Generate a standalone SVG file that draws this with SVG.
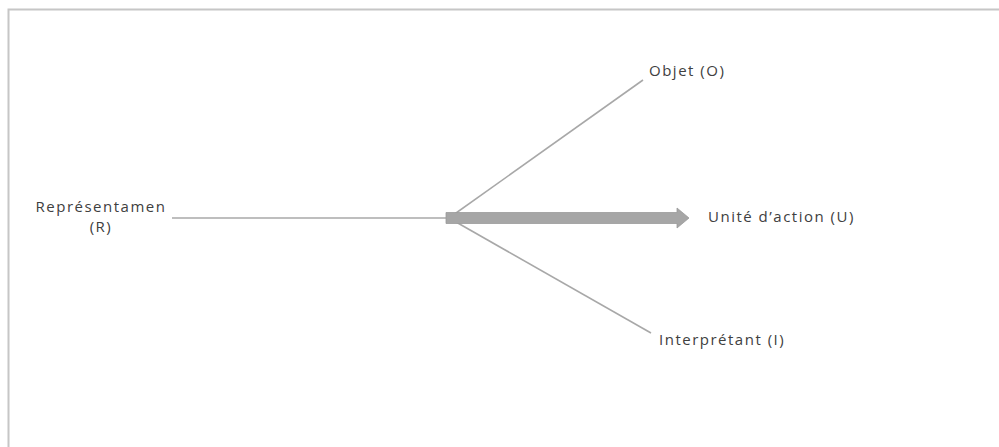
<svg xmlns="http://www.w3.org/2000/svg" width="999" height="447" viewBox="0 0 999 447">
<style>
.lbl{font-family:"Open Sans","Liberation Sans",sans-serif;font-size:15px;letter-spacing:1.5px;fill:#404040}
.ln{stroke:#a8a8a8;stroke-width:1.6;fill:none}
</style>
<rect x="0" y="0" width="999" height="447" fill="#ffffff"/>
<g id="frame">
<path d="M8.5 447 V9.5 H999" stroke="#c6c6c6" stroke-width="2" fill="none"/>
</g>
<g id="connectors">
<line class="ln" x1="172" y1="218" x2="448" y2="218"/>
<line class="ln" x1="449" y1="218" x2="643" y2="80"/>
<line class="ln" x1="449" y1="218" x2="651" y2="333"/>
<path d="M446 212.5 H677 V208 L689 218 L677 228 V223.5 H446 Z" fill="#a6a6a6" stroke="#9a9a9a" stroke-width="0.8"/>
</g>
<g id="node-R">
<text class="lbl" x="101" y="212" text-anchor="middle">Représentamen</text>
<text class="lbl" x="101" y="232" text-anchor="middle">(R)</text>
</g>
<g id="node-O">
<text class="lbl" x="649" y="76">Objet (O)</text>
</g>
<g id="node-U">
<text class="lbl" x="708" y="222">Unité d’action (U)</text>
</g>
<g id="node-I">
<text class="lbl" x="659" y="345">Interprétant (I)</text>
</g>
</svg>
